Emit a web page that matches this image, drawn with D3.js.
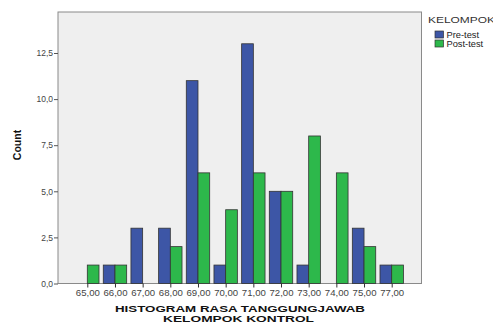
<!DOCTYPE html>
<html><head><meta charset="utf-8">
<script src="https://cdn.jsdelivr.net/npm/d3@7/dist/d3.min.js"></script>
<style>body{margin:0;background:#fff;overflow:hidden}svg{display:block}text{font-family:"Liberation Sans",Arial,sans-serif}</style>
</head><body><svg id="c" width="493" height="323"></svg>
<script>
const categories = ["65,00","66,00","67,00","68,00","69,00","70,00","71,00","72,00","73,00","74,00","75,00","77,00"];
const preTest  = [0,1,3,3,11,1,13,5,1,0,3,1];
const postTest = [1,1,0,2,6,4,6,5,8,6,2,1];
const yTicks = [0,2.5,5,7.5,10,12.5];
const seriesNames = ["Pre-test","Post-test"];
const colors = ["#3d56a6","#2db84b"];

const svg = d3.select("#c");
const L=58, T=12, R=421.5, B=283.5;
svg.append("rect").attr("x",L).attr("y",T).attr("width",R-L).attr("height",B-T)
  .attr("fill","#efefef").attr("stroke","#8a8a8a").attr("stroke-width",1);

const x = d3.scalePoint().domain(categories).range([87.3,391.7]);
const y = d3.scaleLinear().domain([0,12.5]).range([B,53]);
const bw = 11.7;

const series=[preTest,postTest];
series.forEach((vals,si)=>{
  svg.append("g").selectAll("rect").data(categories.map((c,i)=>({c,v:vals[i]})).filter(d=>d.v>0))
    .join("rect")
    .attr("x",d=>x(d.c)+(si===0?-bw:0))
    .attr("y",d=>y(d.v))
    .attr("width",bw)
    .attr("height",d=>y(0)-y(d.v))
    .attr("fill",colors[si]).attr("stroke","#333").attr("stroke-width",0.8);
});

const fmt = d=>d3.format(".1f")(d).replace(".",",");
const ya = d3.axisLeft(y).tickValues(yTicks).tickFormat(fmt).tickSize(4).tickPadding(1);
const gy = svg.append("g").attr("transform",`translate(${L},0)`).call(ya);
gy.select(".domain").remove();
gy.selectAll("line").attr("stroke","#555");
gy.selectAll("text").attr("font-size","8.5px").attr("fill","#444");

const xa = d3.axisBottom(x).tickSize(4).tickPadding(2);
const gx = svg.append("g").attr("transform",`translate(0,${B})`).call(xa);
gx.select(".domain").remove();
gx.selectAll("line").attr("stroke","#333");
gx.selectAll("text").attr("font-size","8.5px").attr("fill","#444").attr("textLength",24).attr("lengthAdjust","spacingAndGlyphs");

svg.append("text").attr("transform","translate(21,145) rotate(-90)").attr("text-anchor","middle")
  .attr("font-size","10.5px").attr("font-weight","bold").attr("fill","#111").text("Count");
svg.append("text").attr("x",240).attr("y",311.6).attr("text-anchor","middle")
  .attr("font-size","9px").attr("font-weight","bold").attr("fill","#111")
  .attr("textLength",250).attr("lengthAdjust","spacingAndGlyphs").text("HISTOGRAM RASA TANGGUNGJAWAB");
svg.append("text").attr("x",238.5).attr("y",322.2).attr("text-anchor","middle")
  .attr("font-size","9px").attr("font-weight","bold").attr("fill","#111")
  .attr("textLength",151).attr("lengthAdjust","spacingAndGlyphs").text("KELOMPOK KONTROL");

svg.append("text").attr("x",428).attr("y",23).attr("font-size","9.5px").attr("fill","#333")
  .attr("textLength",67).attr("lengthAdjust","spacingAndGlyphs").text("KELOMPOK");
const lg = svg.append("g").selectAll("g").data(seriesNames).join("g")
  .attr("transform",(d,i)=>`translate(435,${31+i*9})`);
lg.append("rect").attr("width",8.5).attr("height",7).attr("fill",(d,i)=>colors[i]).attr("stroke","#333").attr("stroke-width",0.7);
lg.append("text").attr("x",11.5).attr("y",7.2).attr("font-size","9.3px").attr("fill","#222").text(d=>d);
</script></body></html>
